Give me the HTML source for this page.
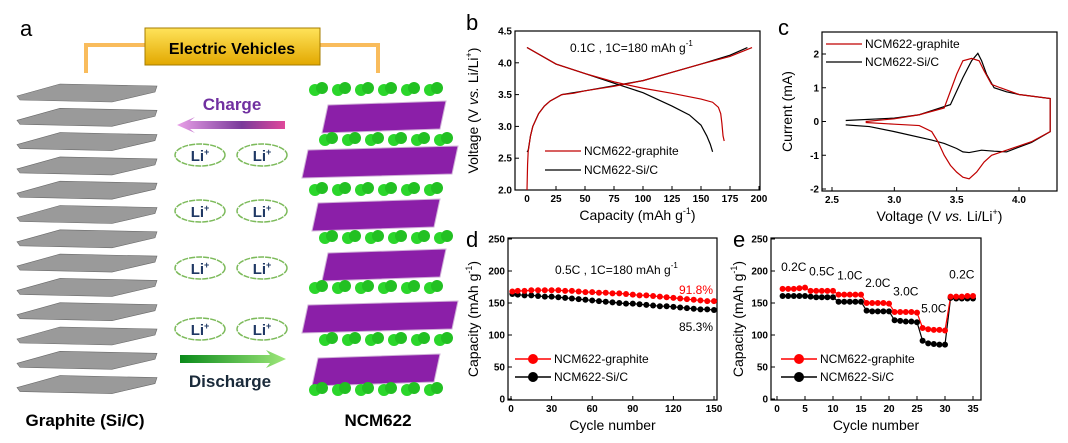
<!DOCTYPE html>
<html><head><meta charset="utf-8"><style>
body{margin:0;background:#fff}
svg{display:block;font-family:"Liberation Sans",Arial,sans-serif}
.tk{font-size:10px;font-weight:bold}
.at{font-size:14px}
.lg{font-size:12px}
.pl{font-size:22px}
</style></head><body>
<svg id="fig" width="1068" height="443" viewBox="0 0 1068 443">
<defs>
<linearGradient id="evg" x1="0" y1="0" x2="0" y2="1"><stop offset="0" stop-color="#ffe35a"/><stop offset="1" stop-color="#e2a800"/></linearGradient>
<linearGradient id="chg" x1="0" x2="1"><stop offset="0" stop-color="#e9a0e8"/><stop offset="0.6" stop-color="#7a3a9a"/><stop offset="1" stop-color="#e0489a"/></linearGradient>
<linearGradient id="dis" x1="0" x2="1"><stop offset="0" stop-color="#0a8a1a"/><stop offset="1" stop-color="#9ee77a"/></linearGradient>
</defs>
<g id="pa">
<text x="20" y="36" class="pl">a</text>
<path d="M86,73 V45 H145 M320,45 H378 V73" fill="none" stroke="#f8b040" stroke-width="4" opacity="0.85"/>
<rect x="145" y="28" width="175" height="37" fill="url(#evg)" stroke="#a67c00"/>
<text x="232" y="54" text-anchor="middle" font-size="16" font-weight="bold">Electric Vehicles</text>
<g id="graphite"></g>
<text x="232" y="110" text-anchor="middle" font-size="17" font-weight="bold" fill="#7030a0">Charge</text>
<path d="M285,121 V129 H190 L195,133 L177,125 L195,117 L190,121 Z" fill="url(#chg)"/>
<g id="clouds"></g>
<path d="M180,355 H270 L266,350 L286,359 L266,368 L270,363 H180 Z" fill="url(#dis)"/>
<text x="230" y="387" text-anchor="middle" font-size="17" font-weight="bold" fill="#1a2a3a">Discharge</text>
<g id="ncm"></g>
<text x="85" y="426" text-anchor="middle" font-size="17" font-weight="bold">Graphite (Si/C)</text>
<text x="378" y="426" text-anchor="middle" font-size="17" font-weight="bold">NCM622</text>
</g>
<g id="pb"></g>
<g id="pc"></g>
<g id="pd"></g>
<g id="pe"></g>
</svg>
<script>
// ---- Panel b data ----
const bGrChargeX=[0,0.5,1,3,5,10,15,20,30,40,50,75,100,125,150,175,194];
const bGrChargeY=[2.0,2.4,2.6,2.85,3.0,3.2,3.32,3.4,3.5,3.52,3.56,3.63,3.72,3.85,3.98,4.1,4.24];
const bGrDisX=[0,25,50,75,100,125,150,160,165,167,168,169,170];
const bGrDisY=[4.24,3.98,3.83,3.7,3.6,3.52,3.43,3.38,3.3,3.2,3.05,2.85,2.77];
const bSiChargeX=[0,1,3,5,10,15,20,30,40,50,75,100,125,150,175,190];
const bSiChargeY=[2.6,2.62,2.85,3.0,3.2,3.32,3.4,3.5,3.53,3.56,3.64,3.72,3.85,3.98,4.12,4.24];
const bSiDisX=[0,25,50,75,100,125,140,150,155,158,160];
const bSiDisY=[4.24,3.98,3.83,3.68,3.53,3.32,3.18,3.02,2.85,2.72,2.6];
const bXTicks=[0,25,50,75,100,125,150,175,200];
const bYTicks=[2.0,2.5,3.0,3.5,4.0,4.5];
// ---- Panel c data ----
const cGrV=[2.77,3.0,3.2,3.4,3.45,3.5,3.55,3.62,3.68,3.72,3.78,3.85,4.0,4.25,4.25,4.1,3.9,3.78,3.72,3.66,3.6,3.55,3.5,3.45,3.4,3.35,3.3,3.2,3.0,2.77];
const cGrI=[0.0,0.08,0.2,0.4,0.9,1.4,1.8,1.87,1.8,1.5,1.1,1.0,0.8,0.68,-0.3,-0.6,-0.85,-1.0,-1.2,-1.5,-1.7,-1.65,-1.5,-1.3,-1.0,-0.6,-0.3,-0.12,-0.08,-0.03];
const cSiV=[2.61,3.0,3.2,3.45,3.5,3.55,3.62,3.67,3.7,3.74,3.8,3.9,4.0,4.25,4.25,4.1,3.9,3.8,3.7,3.6,3.55,3.5,3.4,3.3,3.0,2.8,2.61];
const cSiI=[0.03,0.1,0.2,0.5,0.9,1.3,1.8,2.02,1.8,1.4,1.0,0.88,0.8,0.68,-0.3,-0.62,-0.9,-0.88,-0.85,-0.92,-0.9,-0.8,-0.65,-0.55,-0.3,-0.15,-0.1];
const cXTicks=[2.5,3.0,3.5,4.0];
const cYTicks=[-2,-1,0,1,2];
// ---- Panel d data ----
const dCycles=[1,5,10,15,20,25,30,35,40,45,50,55,60,65,70,75,80,85,90,95,100,105,110,115,120,125,130,135,140,145,150];
const dGraphite=[168,169,169,170,170,170,170,170,169,169,168,167,167,166,166,165,165,164,163,162,162,161,160,159,158,157,156,155,154,153,153];
const dSiC=[164,163,162,162,161,160,160,159,158,157,156,155,154,153,152,151,150,149,149,148,147,146,145,145,144,143,142,141,140,140,139];
const dXTicks=[0,30,60,90,120,150];
const dYTicks=[0,50,100,150,200,250];
// ---- Panel e data ----
const eCycles=[1,2,3,4,5,6,7,8,9,10,11,12,13,14,15,16,17,18,19,20,21,22,23,24,25,26,27,28,29,30,31,32,33,34,35];
const eGraphite=[172,172,172,173,174,169,169,169,169,169,163,163,163,163,163,150,150,150,150,149,136,136,136,136,135,111,109,108,108,107,160,160,160,161,161];
const eSiC=[161,161,161,161,161,160,159,159,159,159,152,152,152,152,152,138,137,137,137,137,123,122,121,121,120,91,87,86,85,85,158,157,157,157,157];
const eRateLabels=["0.2C","0.5C","1.0C","2.0C","3.0C","5.0C","0.2C"];
const eRateX=[3,8,13,18,23,28,33];
const eRateY=[200,193,187,175,162,135,188];
const eXTicks=[0,5,10,15,20,25,30,35];

const NS="http://www.w3.org/2000/svg";
function mk(p,tag,at,txt){const e=document.createElementNS(NS,tag);for(const k in at)e.setAttribute(k,at[k]);if(txt!==undefined)e.textContent=txt;p.appendChild(e);return e;}
function lin(d0,d1,r0,r1){return v=>r0+(v-d0)*(r1-r0)/(d1-d0);}

function axes(g,o){
  const f=mk(g,'rect',{x:o.l,y:o.t,width:o.r-o.l,height:o.b-o.t,fill:'none',stroke:'#000','stroke-width':1.2});
  
  o.xt.forEach(v=>{const x=o.sx(v);
    const t=mk(g,'line',{x1:x,x2:x,y1:o.b,y2:o.b-4,stroke:'#000'});
    const l=mk(g,'text',{x:x,y:o.b+12,'text-anchor':'middle',class:'tk'},o.xf?o.xf(v):v);});
  o.yt.forEach(v=>{const y=o.sy(v);
    const t=mk(g,'line',{x1:o.l,x2:o.l+4,y1:y,y2:y,stroke:'#000'});
    const l=mk(g,'text',{x:o.l-3,y:y+3.5,'text-anchor':'end',class:'tk'},o.yf?o.yf(v):v);});
  const xt=mk(g,'text',{x:(o.l+o.r)/2,y:o.b+30,'text-anchor':'middle',class:'at'});xt.innerHTML=o.xl;
  
  const cy=(o.t+o.b)/2;
  const yt=mk(g,'text',{x:o.yx,y:cy,'text-anchor':'middle',class:'at',transform:`rotate(-90 ${o.yx} ${cy})`});yt.innerHTML=o.yl;
  
}
function poly(g,xs,ys,sx,sy,col,name){
  const p=mk(g,'polyline',{points:xs.map((v,i)=>sx(v)+','+sy(ys[i])).join(' '),fill:'none',stroke:col,'stroke-width':1.2});
  
}
function legLine(g,x,y,col,label,dot){
  const l=mk(g,'line',{x1:x,x2:x+36,y1:y,y2:y,stroke:col,'stroke-width':dot?1.5:1.2});
  
  if(dot){const c=mk(g,'circle',{cx:x+18,cy:y,r:5,fill:col});}
  const t=mk(g,'text',{x:x+39,y:y+4,class:'lg'},label);
}
function label(g,x,y,s,name){const t=mk(g,'text',{x:x,y:y,class:'pl'},s);}

// Panel b
(function(){const g=document.getElementById('pb');
  const sx=lin(0,200,527,759),sy=lin(2,4.5,190,31);
  label(g,466,30,'b','panel-label-b');
  axes(g,{l:515,r:760,t:31,b:190,sx,sy,xt:bXTicks,yt:bYTicks,yf:v=>v.toFixed(1),
    xl:'Capacity (mAh g<tspan dy="-6" font-size="9">-1</tspan><tspan dy="6">)</tspan>',
    yl:'Voltage (V <tspan font-style="italic">vs.</tspan> Li/Li<tspan dy="-6" font-size="9">+</tspan><tspan dy="6">)</tspan>',yx:478});
  poly(g,bSiChargeX,bSiChargeY,sx,sy,'#000','sic-charge-curve');
  poly(g,bSiDisX,bSiDisY,sx,sy,'#000','sic-discharge-curve');
  poly(g,bGrChargeX,bGrChargeY,sx,sy,'#c00000','graphite-charge-curve');
  poly(g,bGrDisX,bGrDisY,sx,sy,'#c00000','graphite-discharge-curve');
  const t=mk(g,'text',{x:570,y:52,class:'lg'});t.innerHTML='0.1C , 1C=180 mAh g<tspan dy="-6" font-size="8">-1</tspan>';
  
  legLine(g,545,151,'#c00000','NCM622-graphite');legLine(g,545,170,'#000','NCM622-Si/C');
})();
// Panel c
(function(){const g=document.getElementById('pc');
  const sx=lin(2.5,4.0,832,1019),sy=lin(-2,2,189,54);
  label(g,778,35,'c','panel-label-c');
  axes(g,{l:822,r:1057,t:32,b:191,sx,sy,xt:cXTicks,yt:cYTicks,xf:v=>v.toFixed(1),
    xl:'Voltage (V <tspan font-style="italic">vs.</tspan> Li/Li<tspan dy="-6" font-size="9">+</tspan><tspan dy="6">)</tspan>',
    yl:'Current (mA)',yx:792});
  poly(g,cSiV,cSiI,sx,sy,'#000','sic-cv-curve');
  poly(g,cGrV,cGrI,sx,sy,'#c00000','graphite-cv-curve');
  legLine(g,826,44,'#c00000','NCM622-graphite');legLine(g,826,62,'#000','NCM622-Si/C');
})();
// Panel d
(function(){const g=document.getElementById('pd');
  const sx=lin(0,150,511,714),sy=lin(0,250,399,239);
  label(g,466,247,'d','panel-label-d');
  axes(g,{l:508,r:717,t:238,b:400,sx,sy,xt:dXTicks,yt:dYTicks,xl:'Cycle number',
    yl:'Capacity (mAh g<tspan dy="-6" font-size="9">-1</tspan><tspan dy="6">)</tspan>',yx:478});
  poly(g,dCycles,dSiC,sx,sy,'#000','sic-cycling-line');
  poly(g,dCycles,dGraphite,sx,sy,'#ff0000','graphite-cycling-line');
  dCycles.forEach((c,i)=>{
    const a=mk(g,'circle',{cx:sx(c),cy:sy(dSiC[i]),r:3,fill:'#000'});
    const b=mk(g,'circle',{cx:sx(c),cy:sy(dGraphite[i]),r:3,fill:'#ff0000'});});
  const t=mk(g,'text',{x:555,y:274,class:'lg'});t.innerHTML='0.5C , 1C=180 mAh g<tspan dy="-6" font-size="8">-1</tspan>';
  
  const p1=mk(g,'text',{x:713,y:294,'text-anchor':'end',class:'lg',fill:'#ff0000'},'91.8%');
  const p2=mk(g,'text',{x:713,y:331,'text-anchor':'end',class:'lg'},'85.3%');
  legLine(g,515,359,'#ff0000','NCM622-graphite',1);legLine(g,515,377,'#000','NCM622-Si/C',1);
})();
// Panel e
(function(){const g=document.getElementById('pe');
  const sx=lin(0,35,777,973),sy=lin(0,250,399,239);
  label(g,733,247,'e','panel-label-e');
  axes(g,{l:771,r:981,t:238,b:400,sx,sy,xt:eXTicks,yt:dYTicks,xl:'Cycle number',
    yl:'Capacity (mAh g<tspan dy="-6" font-size="9">-1</tspan><tspan dy="6">)</tspan>',yx:743});
  poly(g,eCycles,eSiC,sx,sy,'#000','sic-rate-line');
  poly(g,eCycles,eGraphite,sx,sy,'#ff0000','graphite-rate-line');
  eCycles.forEach((c,i)=>{
    const a=mk(g,'circle',{cx:sx(c),cy:sy(eSiC[i]),r:3,fill:'#000'});
    const b=mk(g,'circle',{cx:sx(c),cy:sy(eGraphite[i]),r:3,fill:'#ff0000'});});
  eRateLabels.forEach((s,i)=>{const t=mk(g,'text',{x:sx(eRateX[i]),y:sy(eRateY[i]),'text-anchor':'middle',class:'lg'},s);
    });
  legLine(g,781,359,'#ff0000','NCM622-graphite',1);legLine(g,781,377,'#000','NCM622-Si/C',1);
})();
// Panel a decorations
(function(){
  const gr=document.getElementById('graphite');
  for(let i=0;i<13;i++){const y=88+i*24.3;
    const p=mk(gr,'path',{d:`M17,${y+8} L60,${y-4} L157,${y-2} L155,${y+4} L112,${y+14} L20,${y+12} Z`,fill:'#9a9a9a',stroke:'#6a6a6a','stroke-width':0.6});
    }
  const cl=document.getElementById('clouds');
  [155,211,268,329].forEach(y=>[200,262].forEach(x=>{
    const e=mk(cl,'ellipse',{cx:x,cy:y,rx:25,ry:11,fill:'#fff',stroke:'#7cba5a','stroke-width':1.5,'stroke-dasharray':'6 1'});
    
    const t=mk(cl,'text',{x:x,y:y+6,'text-anchor':'middle','font-size':15,'font-weight':'bold',fill:'#1f3864'});t.innerHTML='Li<tspan dy="-6" font-size="9">+</tspan>';
    }));
  const n=document.getElementById('ncm');
  const slabs=[[322,105,446],[302,150,458],[312,203,440],[322,253,446],[302,305,458],[312,358,440]];
  slabs.forEach(s=>{const [x,y,r]=s;
    const p=mk(n,'path',{d:`M${x},${y+28} L${x+6},${y} L${r},${y-4} L${r-6},${y+24} Z`,fill:'#8b1fa8',stroke:'#d0b0d8','stroke-width':1});
    });
  [90,140,190,238,288,340,390].forEach((y,j)=>{for(let k=0;k<6;k++){const x=(j%2?325:315)+k*23;
    const c=mk(n,'circle',{cx:x,cy:y,r:6,fill:'#2bd62b'});
    const c2=mk(n,'circle',{cx:x+7,cy:y-2,r:6,fill:'#22c022'});}});
})();
</script>
</body></html>
